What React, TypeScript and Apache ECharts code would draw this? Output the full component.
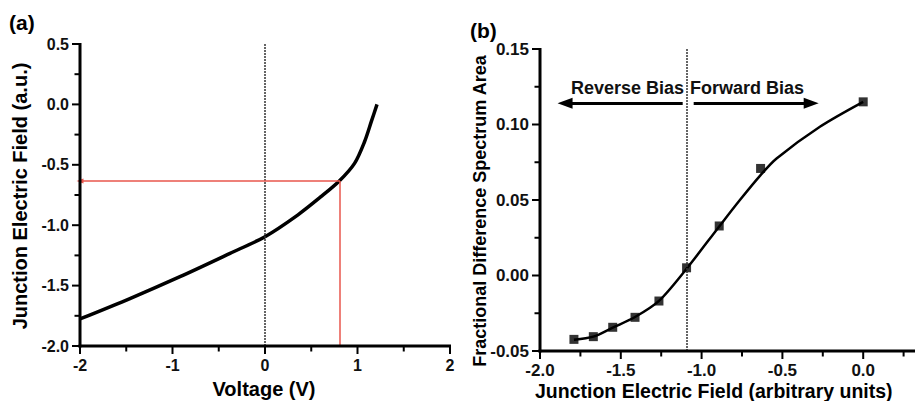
import React, { useEffect, useRef } from "react";
import * as echarts from "echarts";

// Panel (a): junction electric field vs voltage
const voltage = [-2, -1.454, -0.919, -0.378, 0, 0.353, 0.605, 0.803, 0.968, 1.076, 1.149, 1.211];
const junctionField = [-1.776, -1.605, -1.426, -1.233, -1.095, -0.916, -0.764, -0.634, -0.488, -0.309, -0.143, 0.0];
const markVoltage = 0.81;
const markField = -0.634;

// Panel (b): fractional difference spectrum area vs junction field
const fieldPoints = [-1.79, -1.67, -1.55, -1.412, -1.264, -1.093, -0.891, -0.635, 0.0];
const areaPoints = [-0.0423, -0.0405, -0.0343, -0.0277, -0.0169, 0.0051, 0.0328, 0.0709, 0.115];
const fitField = [-1.79, -1.67, -1.55, -1.412, -1.264, -1.093, -0.891, -0.763, -0.635, -0.536, -0.268, 0.0];
const fitArea = [-0.0425, -0.0405, -0.0345, -0.0275, -0.0168, 0.0045, 0.0325, 0.05, 0.0665, 0.0775, 0.0985, 0.115];
const biasDivider = -1.09;
const arrowY = 0.114;
const reverseArrow = [-1.117, -1.845];
const forwardArrow = [-1.049, -0.322];

// Tick positions
const leftXMajor = [-2, -1, 0, 1, 2];
const leftXMinor = [-1.5, -0.5, 0.5, 1.5];
const leftYMajor = [-2, -1.5, -1, -0.5, 0, 0.5];
const leftYMinor = [-1.75, -1.25, -0.75, -0.25, 0.25];
const rightXMajor = [-2, -1.5, -1, -0.5, 0, 0.5];
const rightXMinor = [-1.75, -1.25, -0.75, -0.25, 0.25];
const rightYMajor = [-0.05, 0, 0.05, 0.1, 0.15];
const rightYMinor = [-0.025, 0.025, 0.075, 0.125];

const LEFT_X = [-2, 2];
const LEFT_Y = [-2, 0.5];
const RIGHT_X = [-2, 0.5];
const RIGHT_Y = [-0.05, 0.15];

const FONT = "'Liberation Sans', Arial, Helvetica, sans-serif";

const fix = (v: number, d: number) => (Math.abs(v) < 1e-9 ? 0 : v).toFixed(d);

function makeAxis(gridIndex: number, range: number[], interval: number, label: any) {
  return {
    type: "value", gridIndex, min: range[0], max: range[1], interval,
    axisLine: { show: false, onZero: false },
    axisTick: { show: false },
    minorTick: { show: false },
    splitLine: { show: false },
    axisLabel: label,
  };
}

const textGraphics = [
  { type: "text", x: 9, y: 12, style: { text: "(a)", font: `bold 21px ${FONT}`, fill: "#000" } },
  { type: "text", x: 470, y: 20, style: { text: "(b)", font: `bold 21px ${FONT}`, fill: "#000" } },
  {
    type: "text", x: 264, y: 389,
    style: { text: "Voltage (V)", font: `bold 20px ${FONT}`, fill: "#000", textAlign: "center", textVerticalAlign: "middle" },
  },
  {
    type: "text", x: 20, y: 196, rotation: Math.PI / 2,
    style: { text: "Junction Electric Field (a.u.)", font: `bold 20px ${FONT}`, fill: "#000", textAlign: "center", textVerticalAlign: "middle" },
  },
  {
    type: "text", x: 480, y: 211, rotation: Math.PI / 2,
    style: { text: "Fractional Difference Spectrum Area", font: `bold 18px ${FONT}`, fill: "#000", textAlign: "center", textVerticalAlign: "middle" },
  },
  {
    type: "text", x: 535, y: 391,
    style: { text: "Junction Electric Field (arbitrary units)", font: `bold 19.5px ${FONT}`, fill: "#000", textAlign: "left", textVerticalAlign: "middle" },
  },
  {
    type: "text", x: 627.5, y: 87.5,
    style: { text: "Reverse Bias", font: `bold 18px ${FONT}`, fill: "#111", textAlign: "center", textVerticalAlign: "middle" },
  },
  {
    type: "text", x: 747, y: 87.5,
    style: { text: "Forward Bias", font: `bold 18px ${FONT}`, fill: "#111", textAlign: "center", textVerticalAlign: "middle" },
  },
];

export default function App() {
  const ref = useRef<HTMLDivElement>(null);
  useEffect(() => {
    if (!ref.current) return;
    const chart = echarts.init(ref.current, null, { renderer: "svg" });
    const option = {
      animation: false,
      grid: [
        { left: 80, top: 44, width: 370, height: 302 },
        { left: 540, top: 49, width: 404, height: 302 },
      ],
      xAxis: [
        makeAxis(0, LEFT_X, 1, {
          fontWeight: "bold", fontSize: 16, color: "#111", fontFamily: FONT, margin: 11,
          formatter: (v: number) => String(Math.round(v)),
        }),
        makeAxis(1, RIGHT_X, 0.5, {
          fontWeight: "bold", fontSize: 17, color: "#111", fontFamily: FONT, margin: 11,
          formatter: (v: number) => (v > 0.3 ? "" : fix(v, 1)),
        }),
      ],
      yAxis: [
        makeAxis(0, LEFT_Y, 0.5, {
          fontWeight: "bold", fontSize: 16, color: "#111", fontFamily: FONT, margin: 11,
          formatter: (v: number) => fix(v, 1),
        }),
        makeAxis(1, RIGHT_Y, 0.05, {
          fontWeight: "bold", fontSize: 17, color: "#111", fontFamily: FONT, margin: 11,
          formatter: (v: number) => fix(v, 2),
        }),
      ],
      series: [
        {
          type: "line", xAxisIndex: 0, yAxisIndex: 0,
          data: voltage.map((v, i) => [v, junctionField[i]]),
          showSymbol: false, smooth: 0.3,
          lineStyle: { color: "#000", width: 3.5 },
          markLine: {
            silent: true, animation: false,
            label: { show: false },
            symbol: "none",
            lineStyle: { color: "#e8564c", width: 1.5, type: "solid" },
            data: [
              { xAxis: 0, lineStyle: { color: "#333", width: 1.5, type: [2, 1] } },
              [
                { coord: [markVoltage, markField], symbol: "none" },
                { coord: [-2, markField], symbol: "triangle", symbolSize: [5, 7] },
              ],
              [
                { coord: [markVoltage, markField], symbol: "none" },
                { coord: [markVoltage, -2], symbol: "none" },
              ],
            ],
          },
        },
        {
          type: "line", xAxisIndex: 1, yAxisIndex: 1,
          data: fitField.map((v, i) => [v, fitArea[i]]),
          showSymbol: false, smooth: 0.3,
          lineStyle: { color: "#000", width: 2.5 },
          markLine: {
            silent: true, animation: false,
            label: { show: false },
            symbol: "none",
            lineStyle: { color: "#000", width: 3, type: "solid" },
            data: [
              { xAxis: biasDivider, lineStyle: { color: "#333", width: 1.5, type: [2, 1] } },
              [
                { coord: [reverseArrow[0], arrowY], symbol: "none" },
                { coord: [reverseArrow[1], arrowY], symbol: "triangle", symbolSize: [11, 15] },
              ],
              [
                { coord: [forwardArrow[0], arrowY], symbol: "none" },
                { coord: [forwardArrow[1], arrowY], symbol: "triangle", symbolSize: [11, 15] },
              ],
            ],
          },
        },
        {
          type: "scatter", xAxisIndex: 1, yAxisIndex: 1,
          data: fieldPoints.map((v, i) => [v, areaPoints[i]]),
          symbol: "rect", symbolSize: 9,
          itemStyle: { color: "#000" },
        },
      ],
      graphic: textGraphics,
    };
    chart.setOption(option as any);

    // Draw axis lines and ticks through the chart's own coordinate conversion
    const lines: any[] = [];
    const seg = (x1: number, y1: number, x2: number, y2: number, w: number) =>
      lines.push({ type: "line", z: 100, silent: true, shape: { x1, y1, x2, y2 }, style: { stroke: "#000", lineWidth: w } });
    const px = (g: number, x: number, y: number) => chart.convertToPixel({ gridIndex: g } as any, [x, y]) as number[];

    const panels = [
      { g: 0, xr: LEFT_X, yr: LEFT_Y, xM: leftXMajor, xm: leftXMinor, yM: leftYMajor, ym: leftYMinor },
      { g: 1, xr: RIGHT_X, yr: RIGHT_Y, xM: rightXMajor, xm: rightXMinor, yM: rightYMajor, ym: rightYMinor },
    ];
    panels.forEach((p) => {
      const o = px(p.g, p.xr[0], p.yr[0]);
      const top = px(p.g, p.xr[0], p.yr[1]);
      const right = px(p.g, p.xr[1], p.yr[0]);
      const ax = o[0];
      const ay = o[1];
      seg(ax, top[1] - 1, ax, ay + 1.5, 3);
      seg(ax - 1.5, ay, right[0] + 1, ay, 3);
      p.yM.forEach((v) => { const q = px(p.g, p.xr[0], v); seg(ax - 8, q[1], ax, q[1], 2); });
      p.ym.forEach((v) => { const q = px(p.g, p.xr[0], v); seg(ax - 5.5, q[1], ax, q[1], 2); });
      p.xM.forEach((v) => { const q = px(p.g, v, p.yr[0]); seg(q[0], ay, q[0], ay + 8, 2); });
      p.xm.forEach((v) => { const q = px(p.g, v, p.yr[0]); seg(q[0], ay, q[0], ay + 5.5, 2); });
    });
    chart.setOption({ graphic: [...textGraphics, ...lines] } as any);

    return () => chart.dispose();
  }, []);
  return (
    <div style={{ position: "fixed", left: 0, top: 0, width: 915, height: 401, overflow: "hidden", background: "#fff" }}>
      <div ref={ref} style={{ width: 960, height: 401 }} />
    </div>
  );
}
